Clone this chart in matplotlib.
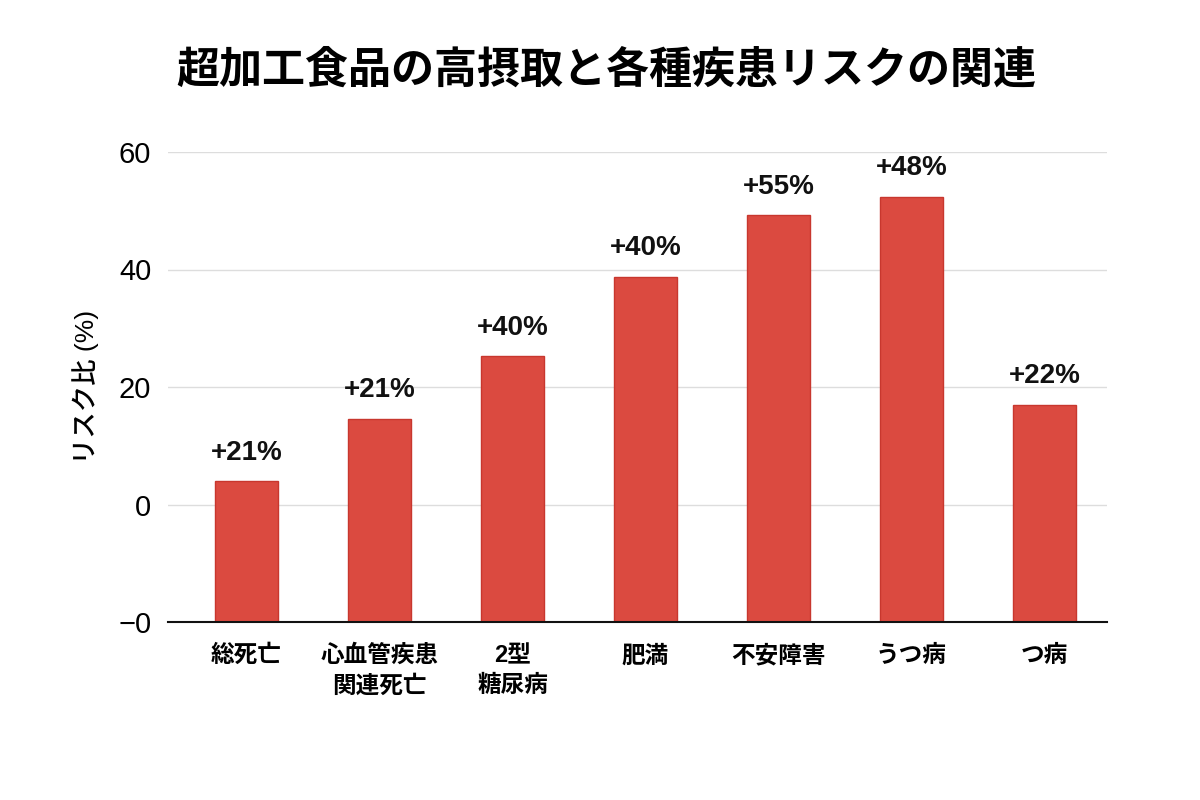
import matplotlib
matplotlib.use("Agg")
import matplotlib.pyplot as plt
import numpy as np

plt.rcParams["font.family"] = ["Liberation Sans", "Noto Sans CJK JP", "DejaVu Sans"]

# categories and values
categories = ["総死亡", "心血管疾患\n関連死亡", "2型\n糖尿病", "肥満", "不安障害", "うつ病", "つ病"]
bar_heights = [4.0, 14.6, 25.2, 38.8, 49.2, 52.4, 17.0]
bar_labels = ["+21%", "+21%", "+40%", "+40%", "+55%", "+48%", "+22%"]
y_ticks = [-20, 0, 20, 40, 60]
y_tick_labels = ["\u22120", "0", "20", "40", "60"]

bar_color = "#db4a40"
edge_color = "#c8372e"

fig = plt.figure(figsize=(12, 8), dpi=100)
ax = fig.add_axes([0.14, 0.2225, 0.7825, 0.5875])

x = np.arange(len(categories))
base = y_ticks[0]
bars = ax.bar(x, np.array(bar_heights) - base, bottom=base, width=0.48,
              color=bar_color, edgecolor=edge_color, linewidth=1, zorder=3)

for xi, h, lab in zip(x, bar_heights, bar_labels):
    ax.annotate(lab, (xi, h), xytext=(0, 11), textcoords="offset points",
                ha="center", va="bottom", fontsize=20, fontweight="bold",
                color="#111111", zorder=4, annotation_clip=False)

ax.set_ylim(-20, 60)
ax.set_xlim(-0.59, 6.47)
ax.set_yticks(y_ticks)
ax.set_yticklabels(y_tick_labels, fontsize=21)
ax.grid(axis="y", color="#dddddd", linewidth=1, zorder=0)
ax.tick_params(axis="y", length=0, pad=12)
ax.tick_params(axis="x", length=0, pad=16)
ax.set_xticks(x)
ax.set_xticklabels(categories, fontsize=17, fontweight="bold", linespacing=1.4,
                   va="top")

for side in ["top", "right", "left"]:
    ax.spines[side].set_visible(False)
ax.spines["bottom"].set_color("#111111")
ax.spines["bottom"].set_linewidth(1.5)
ax.spines["bottom"].set_zorder(5)

ax.set_ylabel("リスク比 (%)", fontsize=19, fontweight="medium", labelpad=14)

fig.text(0.505, 0.912, "超加工食品の高摂取と各種疾患リスクの関連",
         ha="center", va="center", fontsize=31, fontweight="bold")

fig.savefig("out.png", dpi=100, facecolor="white")
plt.close(fig)
